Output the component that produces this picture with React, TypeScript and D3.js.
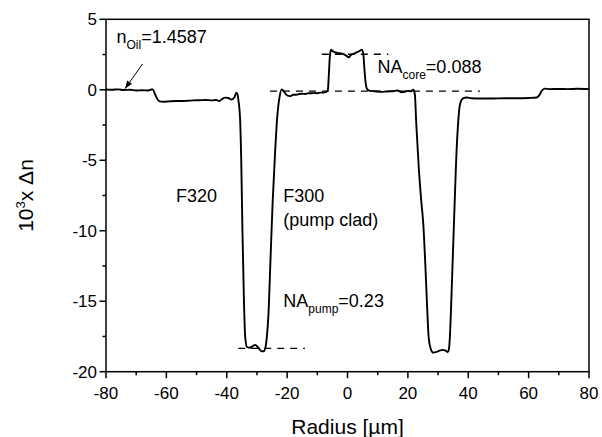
import React from "react";
import * as d3 from "d3";

const profileX = [
  -80, -78, -76, -74, -72, -70, -68, -66, -65, -64.5, -63.8, -63, -62.2, -61, -59, -57, -55, -53, -51, -49, -47, -45,
  -43.5, -42.5, -41.5, -40.5, -39.5, -38.5, -37.5, -36.8, -36.4, -36.1, -35.6, -35.2, -34.8, -34.3, -33.9, -33.3,
  -32.5, -31.5, -30.6, -29.5, -28.5, -27.8, -27.2, -26.7, -26.2, -25.5, -24.8, -24.0, -23.3, -22.5, -21.8, -21.0,
  -20.0, -19.0, -18, -17, -16, -15, -14, -13, -12, -11, -10, -9, -8, -7, -6.5, -6.2, -5.9, -5.5, -5.0, -4, -3, -2,
  -1, 0, 0.5, 1, 2, 3, 4, 4.7, 5.2, 5.6, 6.0, 6.5, 7.5, 9, 11, 13, 15, 16.5, 18, 19, 20, 21, 21.8, 22.3, 22.8, 23.6,
  24.4, 25.1, 25.8, 26.4, 26.9, 27.6, 28.4, 29.5, 30.5, 31.5, 32.5, 33.2, 33.5, 33.9, 34.3, 34.7, 35.1, 35.5, 36.0,
  36.6, 37.3, 38.4, 39.5, 41, 44, 48, 52, 56, 60, 62.7, 63.5, 64.3, 65.3, 67, 70, 73, 76, 80,
];
const profileY = [
  0.02, 0.0, 0.03, -0.02, 0.0, -0.05, -0.03, -0.05, 0.02, 0.03, -0.3, -0.65, -0.82, -0.85, -0.82, -0.8, -0.8, -0.78,
  -0.75, -0.74, -0.72, -0.75, -0.72, -0.8, -0.65, -0.56, -0.58, -0.7, -0.55, -0.2, -0.35, -0.8, -2, -5, -10, -15,
  -17.5, -18.25, -18.3, -18.2, -18.1, -18.3, -18.55, -18.55, -18.3, -17.5, -16, -12, -8, -4.5, -2, -0.5, 0.03, -0.15,
  -0.4, -0.45, -0.35, -0.35, -0.3, -0.28, -0.3, -0.25, -0.25, -0.22, -0.25, -0.2, -0.2, -0.15, 0.0, 1.0, 2.2, 2.85,
  2.75, 2.65, 2.6, 2.58, 2.5, 2.35, 2.3, 2.45, 2.55, 2.65, 2.75, 2.85, 2.6, 1.5, 0.5, 0.05, -0.08, -0.1, -0.15,
  -0.12, -0.1, -0.05, -0.18, -0.15, -0.08, -0.1, 0.0, -0.3, -2.5, -5.5, -7.8, -9.5, -12.5, -15.5, -17.6, -18.4,
  -18.65, -18.6, -18.5, -18.45, -18.5, -18.6, -18.5, -17.6, -15.5, -13, -10.5, -8, -5, -2.5, -1.0, -0.6, -0.55,
  -0.6, -0.62, -0.62, -0.6, -0.6, -0.58, -0.55, -0.4, -0.1, 0.08, 0.05, 0.06, 0.05, 0.07, 0.05,
];

const xMajorTicks = [-80, -60, -40, -20, 0, 20, 40, 60, 80];
const xMinorTicks = [-70, -50, -30, -10, 10, 30, 50, 70];
const yMajorTicks = [-20, -15, -10, -5, 0, 5];
const yMinorTicks = [-17.5, -12.5, -7.5, -2.5, 2.5];

// dashed reference lines: [x1, x2, y]
const dashPump = [-36.2, -14.1, -18.35];
const dashCoreTop = [-8.5, 13.5, 2.52];
const dashCoreBase = [-25.7, 43.9, -0.1];
const arrowFrom = [-67.9, 1.83];
const arrowTo = [-73.7, 0.08];

const W = 602;
const H = 437;
const L = 106;
const R = 589;
const T = 19.3;
const B = 371.7;

export default function App() {
  const x = d3.scaleLinear().domain([-80, 80]).range([L, R]);
  const y = d3.scaleLinear().domain([-20, 5]).range([B, T]);
  const pts: [number, number][] = profileX.map((v, i) => [v, profileY[i]]);
  const line = d3
    .line<[number, number]>()
    .x((d) => x(d[0]))
    .y((d) => y(d[1]))
    .curve(d3.curveMonotoneX);
  const font = "Arial, 'Liberation Sans', sans-serif";

  const ax1 = x(arrowFrom[0]);
  const ay1 = y(arrowFrom[1]);
  const ax2 = x(arrowTo[0]);
  const ay2 = y(arrowTo[1]);
  const ang = Math.atan2(ay2 - ay1, ax2 - ax1);
  const hl = 8;
  const hw = 3;
  const head = [
    [ax2, ay2],
    [ax2 - hl * Math.cos(ang) + hw * Math.sin(ang), ay2 - hl * Math.sin(ang) - hw * Math.cos(ang)],
    [ax2 - hl * Math.cos(ang) - hw * Math.sin(ang), ay2 - hl * Math.sin(ang) + hw * Math.cos(ang)],
  ];

  const dash = (d: number[], key: string) => (
    <line
      key={key}
      x1={x(d[0])}
      x2={x(d[1])}
      y1={y(d[2])}
      y2={y(d[2])}
      stroke="#000"
      strokeWidth={1.3}
      strokeDasharray="7,6"
    />
  );

  return (
    <svg
      width={W}
      height={H}
      style={{ position: "absolute", left: 0, top: 0, background: "#fff" }}
      fontFamily={font}
    >
      <rect x={0} y={0} width={W} height={H} fill="#fff" />
      {dash(dashPump, "dp")}
      {dash(dashCoreTop, "dct")}
      {dash(dashCoreBase, "dcb")}
      <path d={line(pts) || ""} fill="none" stroke="#000" strokeWidth={1.9} strokeLinejoin="round" />
      <rect x={L} y={T} width={R - L} height={B - T} fill="none" stroke="#000" strokeWidth={1.5} />
      {xMajorTicks.map((t) => (
        <g key={"xm" + t}>
          <line x1={x(t)} x2={x(t)} y1={B} y2={B + 6.5} stroke="#000" strokeWidth={1.5} />
          <text x={x(t)} y={399} fontSize={17} textAnchor="middle">
            {t}
          </text>
        </g>
      ))}
      {xMinorTicks.map((t) => (
        <line key={"xn" + t} x1={x(t)} x2={x(t)} y1={B} y2={B + 3.5} stroke="#000" strokeWidth={1.5} />
      ))}
      {yMajorTicks.map((t) => (
        <g key={"ym" + t}>
          <line x1={L - 6.5} x2={L} y1={y(t)} y2={y(t)} stroke="#000" strokeWidth={1.5} />
          <text x={97} y={y(t) + 6} fontSize={17} textAnchor="end">
            {t}
          </text>
        </g>
      ))}
      {yMinorTicks.map((t) => (
        <line key={"yn" + t} x1={L - 3.5} x2={L} y1={y(t)} y2={y(t)} stroke="#000" strokeWidth={1.5} />
      ))}
      <text x={(L + R) / 2} y={434} fontSize={21} textAnchor="middle">
        Radius [µm]
      </text>
      <text transform={`translate(33,${(T + B) / 2}) rotate(-90)`} fontSize={21} textAnchor="middle">
        10<tspan dy={-8} fontSize={13}>3</tspan>
        <tspan dy={8}>x Δn</tspan>
      </text>
      <line x1={ax1} y1={ay1} x2={ax2} y2={ay2} stroke="#000" strokeWidth={1} />
      <polygon points={head.map((p) => p.join(",")).join(" ")} fill="#000" />
      <text x={116.5} y={43} fontSize={18}>
        n<tspan dy={6} fontSize={12}>Oil</tspan>
        <tspan dy={-6}>=1.4587</tspan>
      </text>
      <text x={377.5} y={73.3} fontSize={18}>
        NA<tspan dy={6} fontSize={12}>core</tspan>
        <tspan dy={-6}>=0.088</tspan>
      </text>
      <text x={176} y={201.7} fontSize={18}>
        F320
      </text>
      <text x={283.3} y={201.7} fontSize={18}>
        F300
      </text>
      <text x={283.3} y={225.5} fontSize={18}>
        (pump clad)
      </text>
      <text x={283.3} y={306.7} fontSize={18}>
        NA<tspan dy={6} fontSize={12}>pump</tspan>
        <tspan dy={-6}>=0.23</tspan>
      </text>
    </svg>
  );
}
